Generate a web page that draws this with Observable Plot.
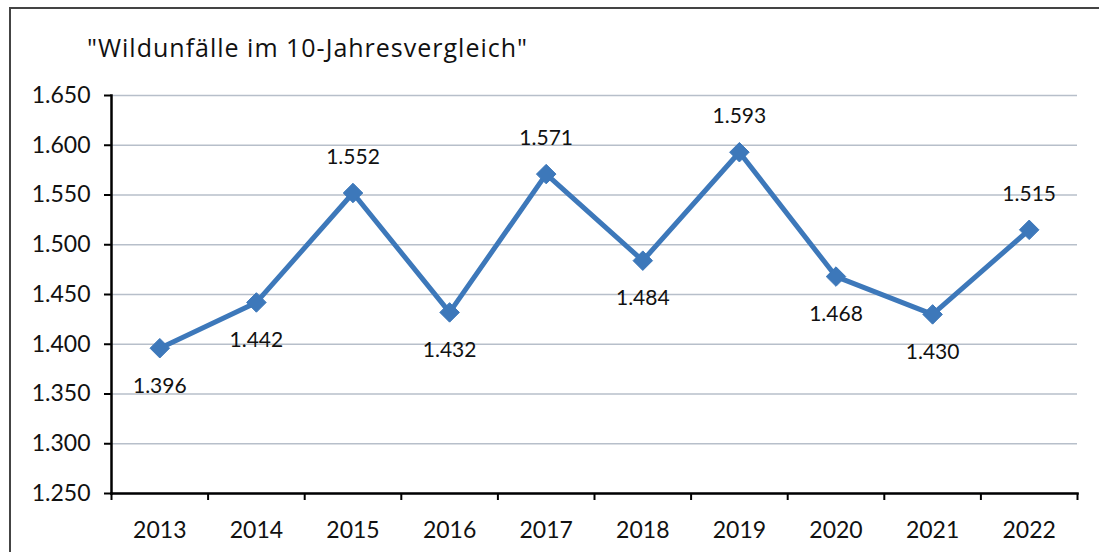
<!DOCTYPE html>
<html>
<head>
<meta charset="utf-8">
<script src="https://cdn.jsdelivr.net/npm/d3@7"></script>
<script src="https://cdn.jsdelivr.net/npm/@observablehq/plot@0.6"></script>
<style>
  html, body { margin: 0; padding: 0; background: #fff; }
  #wrap { position: relative; width: 1099px; height: 552px; overflow: hidden; font-family: Lato, "Open Sans", sans-serif; }
  #frame { position: absolute; left: 9px; top: 7px; width: 1200px; height: 700px; border-top: 2px solid #444; border-left: 2px solid #444; box-sizing: border-box; pointer-events: none; }
  #title { position: absolute; left: 87px; top: 35px; font-family: "Open Sans", sans-serif; font-size: 25px; letter-spacing: 1px; color: #111; white-space: nowrap; line-height: 1; }
  #chart { position: absolute; left: 0; top: 0; }
</style>
</head>
<body>
<div id="wrap">
  <div id="frame"></div>
  <div id="chart"></div>
  <div id="title">"Wildunfälle im 10-Jahresvergleich"</div>
</div>
<script>
const years = [2013, 2014, 2015, 2016, 2017, 2018, 2019, 2020, 2021, 2022];
const accidents = [1396, 1442, 1552, 1432, 1571, 1484, 1593, 1468, 1430, 1515];
const yTicks = [1250, 1300, 1350, 1400, 1450, 1500, 1550, 1600, 1650];

const de = d3.formatLocale({decimal: ",", thousands: ".", grouping: [3], currency: ["", " €"]});
const fmt = de.format(",d");

const data = years.map((year, i) => {
  const v = accidents[i];
  const prev = i > 0 ? accidents[i - 1] : -Infinity;
  const next = i < accidents.length - 1 ? accidents[i + 1] : -Infinity;
  return {year, value: v, above: v > prev && v > next};
});
const bounds = [years[0] - 0.5, ...years.map(y => y + 0.5)];

const color = "#3D78BA";

const chart = Plot.plot({
  width: 1099,
  height: 552,
  marginLeft: 111,
  marginRight: 22,
  marginTop: 95,
  marginBottom: 59,
  style: {fontFamily: "Lato, 'Open Sans', sans-serif", color: "#111", background: "transparent"},
  x: {type: "linear", domain: [bounds[0], bounds[bounds.length - 1]]},
  y: {domain: [yTicks[0], yTicks[yTicks.length - 1]]},
  marks: [
    Plot.gridY(yTicks, {stroke: "#b7bfca", strokeOpacity: 1, strokeWidth: 1.5}),
    Plot.axisY(yTicks, {tickFormat: fmt, tickSize: 7, tickPadding: 14, fontSize: 23, stroke: "#000", strokeWidth: 2, label: null}),
    Plot.axisX(years, {tickFormat: d => String(d), tickSize: 0, tickPadding: 28, fontSize: 23, label: null}),
    Plot.axisX(bounds, {tickFormat: () => "", tickSize: 7, stroke: "#000", strokeWidth: 2, label: null}),
    Plot.frame({anchor: "left", stroke: "#000", strokeWidth: 2.5}),
    Plot.frame({anchor: "bottom", stroke: "#000", strokeWidth: 2.5}),
    Plot.line(data, {x: "year", y: "value", stroke: color, strokeWidth: 5}),
    Plot.dot(data, {x: "year", y: "value", symbol: "diamond2", r: 8.8, fill: color, stroke: color, strokeWidth: 1}),
    Plot.text(data.filter(d => d.above), {x: "year", y: "value", text: d => fmt(d.value), dy: -36, fontSize: 21, fill: "#111", lineAnchor: "middle"}),
    Plot.text(data.filter(d => !d.above), {x: "year", y: "value", text: d => fmt(d.value), dy: 38, fontSize: 21, fill: "#111", lineAnchor: "middle"})
  ]
});
document.getElementById("chart").appendChild(chart);
</script>
</body>
</html>
